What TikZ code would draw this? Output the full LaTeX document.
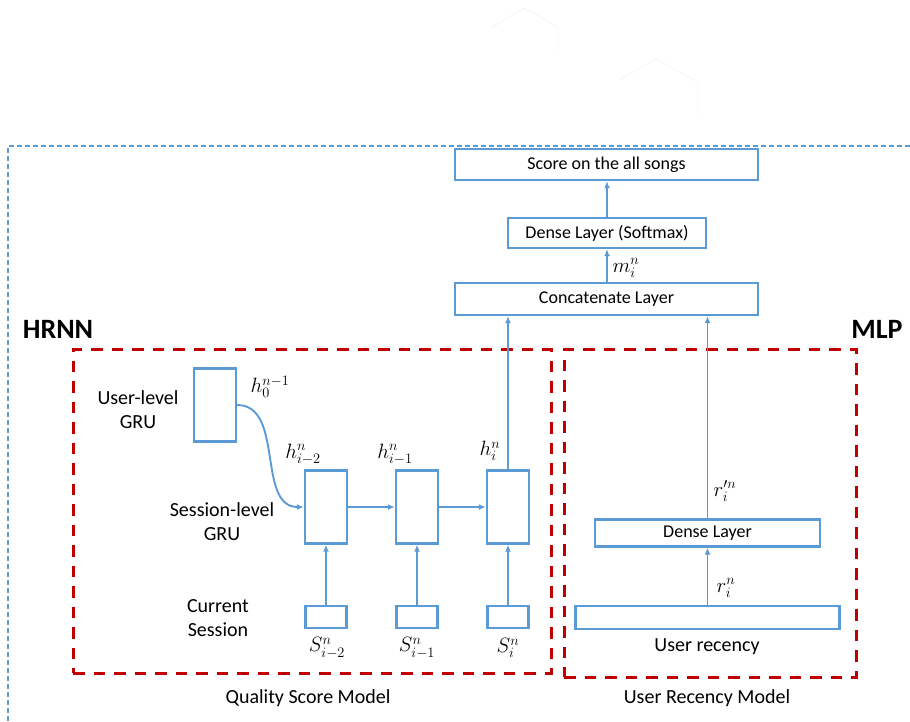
\documentclass[tikz,border=0pt]{standalone}
\usepackage{fontspec}
\setmainfont{Carlito}
\usetikzlibrary{arrows.meta}
\definecolor{lineblue}{RGB}{91,155,213}
\definecolor{boxred}{RGB}{192,0,0}
\begin{document}
\begin{tikzpicture}[x=1pt,y=-1pt,
  box/.style={draw=lineblue, line width=2.3pt, inner sep=0pt, font=\fontsize{18}{20}\selectfont},
  cell/.style={box, minimum width=42pt, minimum height=73pt},
  seq/.style={box, minimum width=41pt, minimum height=22pt},
  flow/.style={draw=lineblue, line width=1.9pt, -{Latex[length=7pt,width=6pt]}},
  part/.style={draw=boxred, line width=3pt, dash pattern=on 11.5pt off 9pt, inner sep=0pt},
  lbl/.style={font=\fontsize{20}{24}\selectfont, align=center, inner sep=0pt},
  var/.style={font=\fontsize{22}{24}\selectfont, inner sep=0pt},
  title/.style={font=\fontsize{28}{30}\selectfont\bfseries, inner sep=0pt}
]
\useasboundingbox (0,0) rectangle (910,721);
\draw[gray!15] (491,28) -- (524,8) -- (558,27) -- (558,53);
\draw[gray!15] (619,80) -- (656,59) -- (698,82) -- (698,118);
\draw[lineblue, line width=1.6pt, dash pattern=on 5pt off 3pt] (910,146) -- (8,146) -- (8,721);
% output part
\node [box, minimum width=303pt, minimum height=31pt] (score) at (606.5,164.5) {Score on the all songs};
\node [box, minimum width=198pt, minimum height=30pt] (softmax) at (607,233) {Dense Layer (Softmax)};
\node [box, minimum width=303pt, minimum height=32pt] (concat) at (606.5,299) {Concatenate Layer};
\node [var] (m) at (626,268) {$m_i^n$};
\draw [flow] (concat.north -| softmax.south) -- (softmax.south);
\draw [flow] (softmax.north) -- (softmax.north |- score.south);
% HRNN
\node [title] (hrnn) at (58,329) {HRNN};
\node [part, minimum width=478pt, minimum height=324pt] (hrnnbox) at (312,511) {};
\node [lbl] (userlbl) at (138,410) {User-level\\GRU};
\node [lbl] (sesslbl) at (222,522) {Session-level\\GRU};
\node [lbl] (currlbl) at (218,618) {Current\\Session};
\node [cell] (user) at (215,405) {};
\node [cell] (s1) at (326,507) {};
\node [cell] (s2) at (417,507) {};
\node [cell] (s3) at (508,507) {};
\node [seq] (in1) at (326,617) {};
\node [seq] (in2) at (417,617) {};
\node [seq] (in3) at (508,617) {};
\node [var] (h0) at (270,387) {$h_0^{n-1}$};
\node [var] (h1) at (303,454) {$h_{i-2}^n$};
\node [var] (h2) at (395,454) {$h_{i-1}^n$};
\node [var] (h3) at (490,451) {$h_i^n$};
\node [var] (x1) at (327,648) {$S_{i-2}^n$};
\node [var] (x2) at (417,648) {$S_{i-1}^n$};
\node [var] (x3) at (508,648) {$S_i^n$};
\draw [flow] (user.east) to[out=0, in=180] (s1.west);
\draw [flow] (s1) -- (s2);
\draw [flow] (s2) -- (s3);
\draw [flow] (in1) -- (s1);
\draw [flow] (in2) -- (s2);
\draw [flow] (in3) -- (s3);
\draw [flow] (s3.north) -- (s3.north |- concat.south);
\node [lbl] (qsm) at (308,698) {Quality Score Model};
% MLP
\node [title] (mlp) at (877,329) {MLP};
\node [part, minimum width=292pt, minimum height=328pt] (mlpbox) at (710,513) {};
\node [box, minimum width=225pt, minimum height=27pt] (dense) at (707.5,533) {Dense Layer};
\node [box, minimum width=264pt, minimum height=23pt] (recency) at (707.5,617.5) {};
\node [lbl] (reclbl) at (707,647) {User recency};
\node [var] (r) at (726,588) {$r_i^n$};
\node [var] (rp) at (725,491) {$r_i^{\prime n}$};
\draw [flow] (recency) -- (dense);
\draw [flow] (dense.north) -- (dense.north |- concat.south);
\node [lbl] (urm) at (707,698) {User Recency Model};
\end{tikzpicture}
\end{document}
